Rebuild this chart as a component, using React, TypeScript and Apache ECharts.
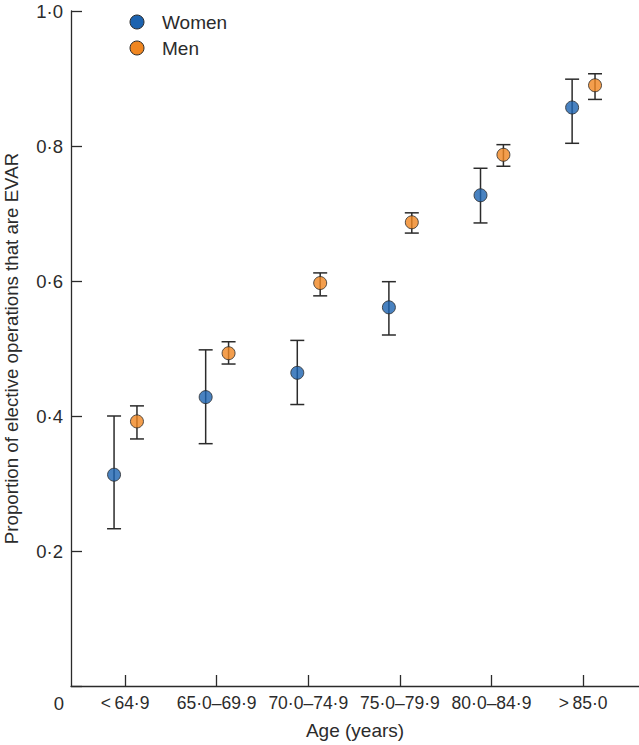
import React, { useEffect, useRef } from "react";
import * as echarts from "echarts";

const ageGroups = ["<\u200964·9", "65·0–69·9", "70·0–74·9", "75·0–79·9", "80·0–84·9", ">\u200985·0"];
const yTicks = [0, 0.2, 0.4, 0.6, 0.8, 1.0];

const womenMean = [0.313, 0.428, 0.464, 0.561, 0.727, 0.857];
const womenLow = [0.233, 0.359, 0.417, 0.520, 0.686, 0.804];
const womenHigh = [0.400, 0.498, 0.512, 0.599, 0.767, 0.899];

const menMean = [0.392, 0.493, 0.597, 0.687, 0.787, 0.890];
const menLow = [0.366, 0.477, 0.578, 0.671, 0.770, 0.869];
const menHigh = [0.415, 0.510, 0.612, 0.701, 0.802, 0.907];

const WOMEN_COLOR = "#1c63b0";
const MEN_COLOR = "#f08620";
const INK = "#2b2b2b";
const FONT = "'Liberation Sans', Arial, Helvetica, sans-serif";
const WOMEN_OFFSET = -0.12;
const MEN_OFFSET = 0.13;

function fmtDot(v: number) {
  return v.toFixed(1).replace(".", "·");
}

export default function App() {
  const ref = useRef<HTMLDivElement>(null);

  useEffect(() => {
    if (!ref.current) return;
    const chart = echarts.init(ref.current, undefined, { renderer: "svg" });
    const idx = ageGroups.map((_, i) => i);

    const errRender = (params: any, api: any) => {
      const x = api.value(0);
      const lo = api.value(1);
      const hi = api.value(2);
      const pHi = api.coord([x, hi]);
      const pLo = api.coord([x, lo]);
      const w = 7;
      const style = { stroke: INK, lineWidth: 1.5 };
      return {
        type: "group",
        children: [
          { type: "line", shape: { x1: pHi[0], y1: pHi[1], x2: pLo[0], y2: pLo[1] }, style },
          { type: "line", shape: { x1: pHi[0] - w, y1: pHi[1], x2: pHi[0] + w, y2: pHi[1] }, style },
          { type: "line", shape: { x1: pLo[0] - w, y1: pLo[1], x2: pLo[0] + w, y2: pLo[1] }, style },
        ],
      };
    };

    const option: any = {
      animation: false,
      backgroundColor: "#ffffff",
      textStyle: { fontFamily: FONT },
      grid: { left: 71, top: 11, right: 0, bottom: 59, containLabel: false, outerBoundsMode: "none" },
      xAxis: {
        type: "value",
        min: -0.59,
        max: 5.61,
        name: "Age (years)",
        nameLocation: "middle",
        nameGap: 35,
        nameTextStyle: { fontSize: 19, color: INK, fontFamily: FONT },
        axisLine: { show: true, onZero: false, lineStyle: { color: INK, width: 1.3 } },
        axisTick: { show: true, inside: true, length: 11, customValues: idx, lineStyle: { color: INK, width: 1.3 } },
        axisLabel: {
          customValues: idx,
          margin: 8,
          fontSize: 17.5,
          color: INK,
          fontFamily: FONT,
          formatter: (v: number) => ageGroups[Math.round(v)] ?? "",
        },
        splitLine: { show: false },
      },
      yAxis: {
        type: "value",
        min: 0,
        max: 1,
        interval: 0.2,
        name: "Proportion of elective operations that are EVAR",
        nameLocation: "middle",
        nameGap: 50,
        nameTextStyle: { fontSize: 18.7, color: INK, fontFamily: FONT },
        axisLine: { show: true, onZero: false, lineStyle: { color: INK, width: 1.3 } },
        axisTick: { show: true, inside: true, length: 11, lineStyle: { color: INK, width: 1.3 } },
        axisLabel: {
          margin: 8,
          fontSize: 18.5,
          color: INK,
          fontFamily: FONT,
          formatter: (v: number) => (v === 0 ? "" : fmtDot(v)),
        },
        splitLine: { show: false },
      },
      graphic: [
        { type: "text", x: 59, y: 703, style: { text: String(yTicks[0]), fontSize: 18.5, fill: INK, fontFamily: FONT, align: "center", verticalAlign: "middle" } },
        { type: "circle", shape: { cx: 137, cy: 22, r: 7 }, style: { fill: WOMEN_COLOR, stroke: INK, lineWidth: 1 } },
        { type: "text", x: 162, y: 22, style: { text: "Women", fontSize: 19, fill: INK, fontFamily: FONT, verticalAlign: "middle" } },
        { type: "circle", shape: { cx: 137, cy: 48, r: 7 }, style: { fill: MEN_COLOR, stroke: INK, lineWidth: 1 } },
        { type: "text", x: 162, y: 48, style: { text: "Men", fontSize: 19, fill: INK, fontFamily: FONT, verticalAlign: "middle" } },
      ],
      series: [
        {
          name: "Women CI",
          type: "custom",
          renderItem: errRender,
          data: idx.map((i) => [i + WOMEN_OFFSET, womenLow[i], womenHigh[i]]),
          z: 2,
        },
        {
          name: "Men CI",
          type: "custom",
          renderItem: errRender,
          data: idx.map((i) => [i + MEN_OFFSET, menLow[i], menHigh[i]]),
          z: 2,
        },
        {
          name: "Women",
          type: "scatter",
          symbol: "circle",
          symbolSize: 13,
          itemStyle: { color: WOMEN_COLOR, borderColor: INK, borderWidth: 1 },
          data: idx.map((i) => [i + WOMEN_OFFSET, womenMean[i]]),
          z: 3,
        },
        {
          name: "Men",
          type: "scatter",
          symbol: "circle",
          symbolSize: 13,
          itemStyle: { color: MEN_COLOR, borderColor: INK, borderWidth: 1 },
          data: idx.map((i) => [i + MEN_OFFSET, menMean[i]]),
          z: 3,
        },
      ],
    };
    chart.setOption(option);
    return () => chart.dispose();
  }, []);

  return (
    <div
      ref={ref}
      style={{ position: "fixed", left: 0, top: 0, width: 639, height: 745, background: "#fff" }}
    />
  );
}
